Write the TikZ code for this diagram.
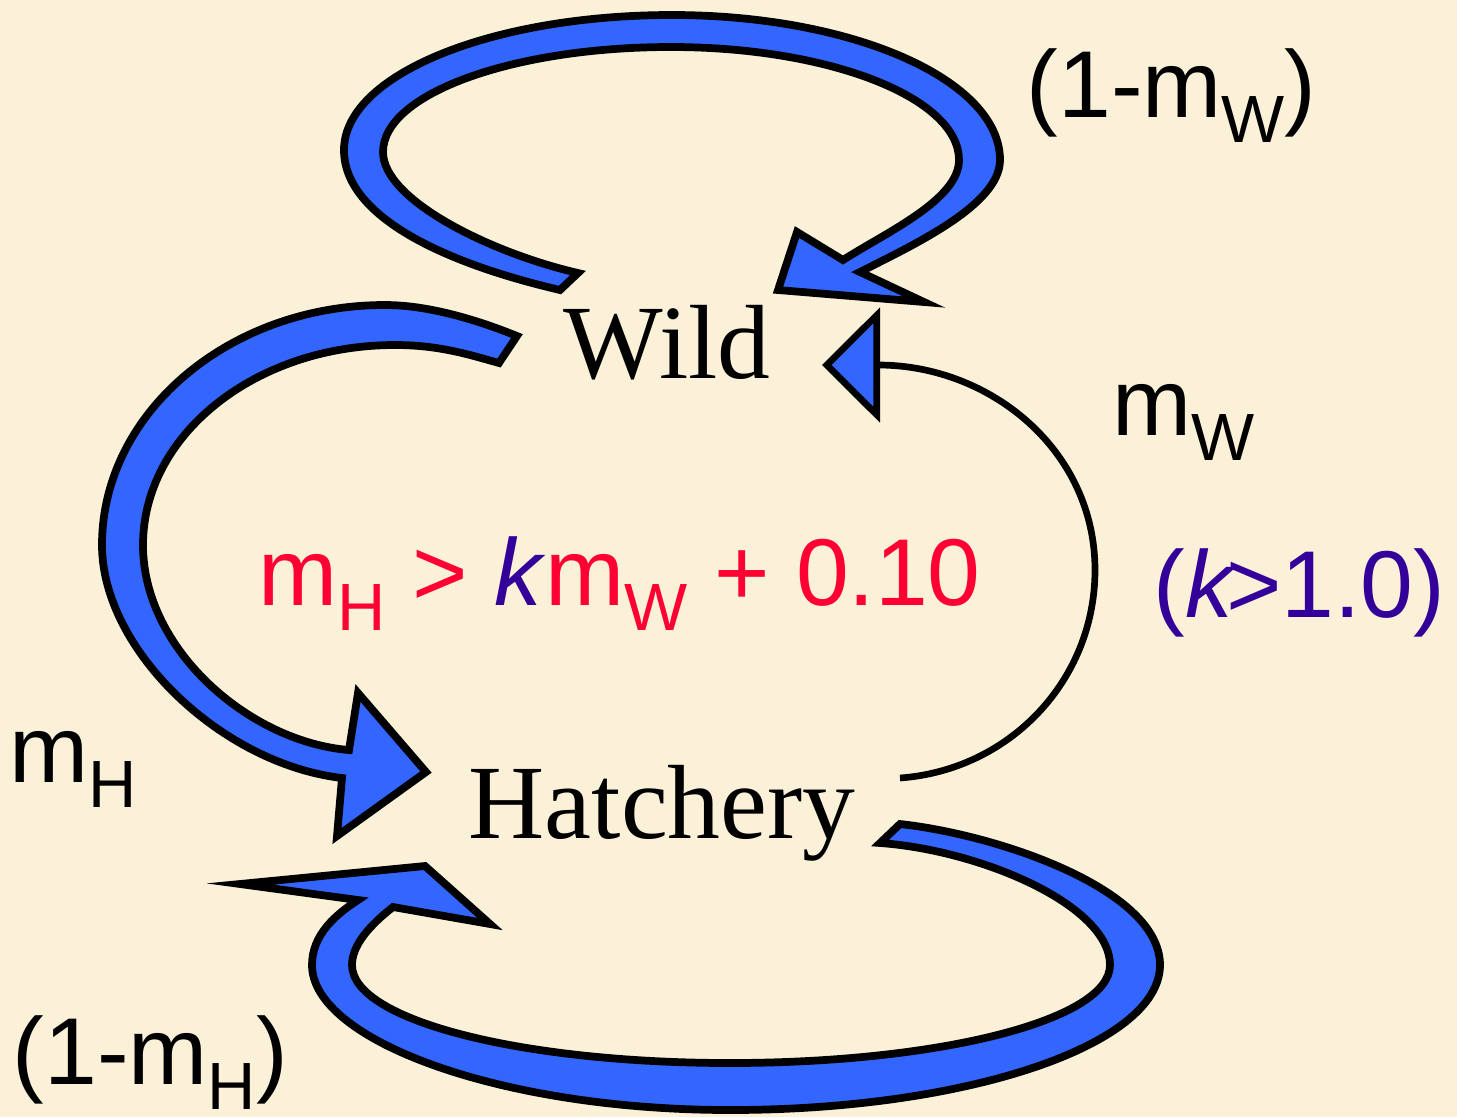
\documentclass[tikz,border=0pt]{standalone}
\usepackage{fontspec}
\setmainfont{Liberation Sans}
\newfontfamily\serifnode{Liberation Serif}
\usetikzlibrary{arrows.meta}
\definecolor{paper}{RGB}{251,241,216}
\definecolor{flowblue}{RGB}{51,102,255}
\definecolor{condred}{RGB}{255,0,51}
\definecolor{kpurple}{RGB}{51,0,153}
\newcommand{\sbs}[1]{\raisebox{-0.25cm}{\fontsize{19}{19}\selectfont #1}}

\begin{document}
\begin{tikzpicture}[x=0.01cm, y=-0.01cm,
    blockarrow/.style={fill=flowblue, draw=black, line width=2.2pt, line join=miter},
    place/.style={font=\serifnode\fontsize{30}{30}\selectfont, inner sep=0pt, anchor=base},
    rate/.style={font=\fontsize{27}{27}\selectfont, inner sep=0pt, anchor=base west}]
    \fill[paper] (0,0) rectangle (1457,1117);
    \useasboundingbox (0,0) rectangle (1457,1117);
    \node[place] (wild) at (667,378) {Wild};
    \node[place] (hatch) at (662,838) {Hatchery};
    % wild stays wild
    \draw[blockarrow] (560,290) .. controls (440,262) and (344,215) .. (344,150) .. controls (344,75) and (491,15) .. (672,15) .. controls (853,15) and (1000,80) .. (1000,160) .. controls (1000,205) and (913,245) .. (860,272) -- (924,302) -- (778,290) -- (797,232) -- (843,260) .. controls (885,233) and (959,200) .. (959,160) .. controls (959,98) and (830,47) .. (671,47) .. controls (512,47) and (383,94) .. (383,152) .. controls (383,200) and (491,253) .. (578,273) -- cycle;
    % wild to hatchery
    \draw[blockarrow] (517,336) .. controls (480,321) and (430,305) .. (385,305) .. controls (229,305) and (102,413) .. (102,545) .. controls (102,650) and (222,764) .. (342,778) -- (337,836) -- (426,772) -- (358,693) -- (349,750) .. controls (250,742) and (143,650) .. (143,545) .. controls (143,435) and (255,345) .. (395,345) .. controls (440,345) and (470,355) .. (499,363) -- cycle;
    % hatchery stays hatchery
    \draw[blockarrow] (900,824) .. controls (1000,835) and (1160,890) .. (1160,965) .. controls (1160,1045) and (967,1110) .. (730,1110) .. controls (500,1110) and (312,1040) .. (312,965) .. controls (312,935) and (335,915) .. (358,900) -- (240,884) -- (425,866) -- (490,924) -- (393,907) .. controls (370,925) and (352,945) .. (352,965) .. controls (352,1020) and (520,1063) .. (730,1063) .. controls (940,1063) and (1110,1020) .. (1110,965) .. controls (1110,905) and (980,850) .. (880,843) -- cycle;
    % hatchery back to wild
    \coordinate (hatchout) at (900,778);
    \coordinate (wildin) at (822,365);
    \draw[line width=1.9pt, -{Triangle[length=0.58cm, width=1.14cm, fill=flowblue]}] (hatchout) .. controls (1010,770) and (1095,680) .. (1095,570) .. controls (1095,450) and (990,365) .. (wildin);
    \node[rate] (selfw) at (1026,117) {(1-m\sbs{W})};
    \node[rate] (mw) at (1112,435) {m\sbs{W}};
    \node[rate, text=condred] (cond) at (258,605) {m\sbs{H} > {\color{kpurple}\textit{k}}m\sbs{W} + 0.10};
    \node[rate, text=kpurple] (kcond) at (1153,617) {(\textit{k}\kern-3pt>1.0)};
    \node[rate] (mh) at (9,782) {m\sbs{H}};
    \node[rate] (selfh) at (12,1084) {(1-m\sbs{H})};
\end{tikzpicture}
\end{document}
